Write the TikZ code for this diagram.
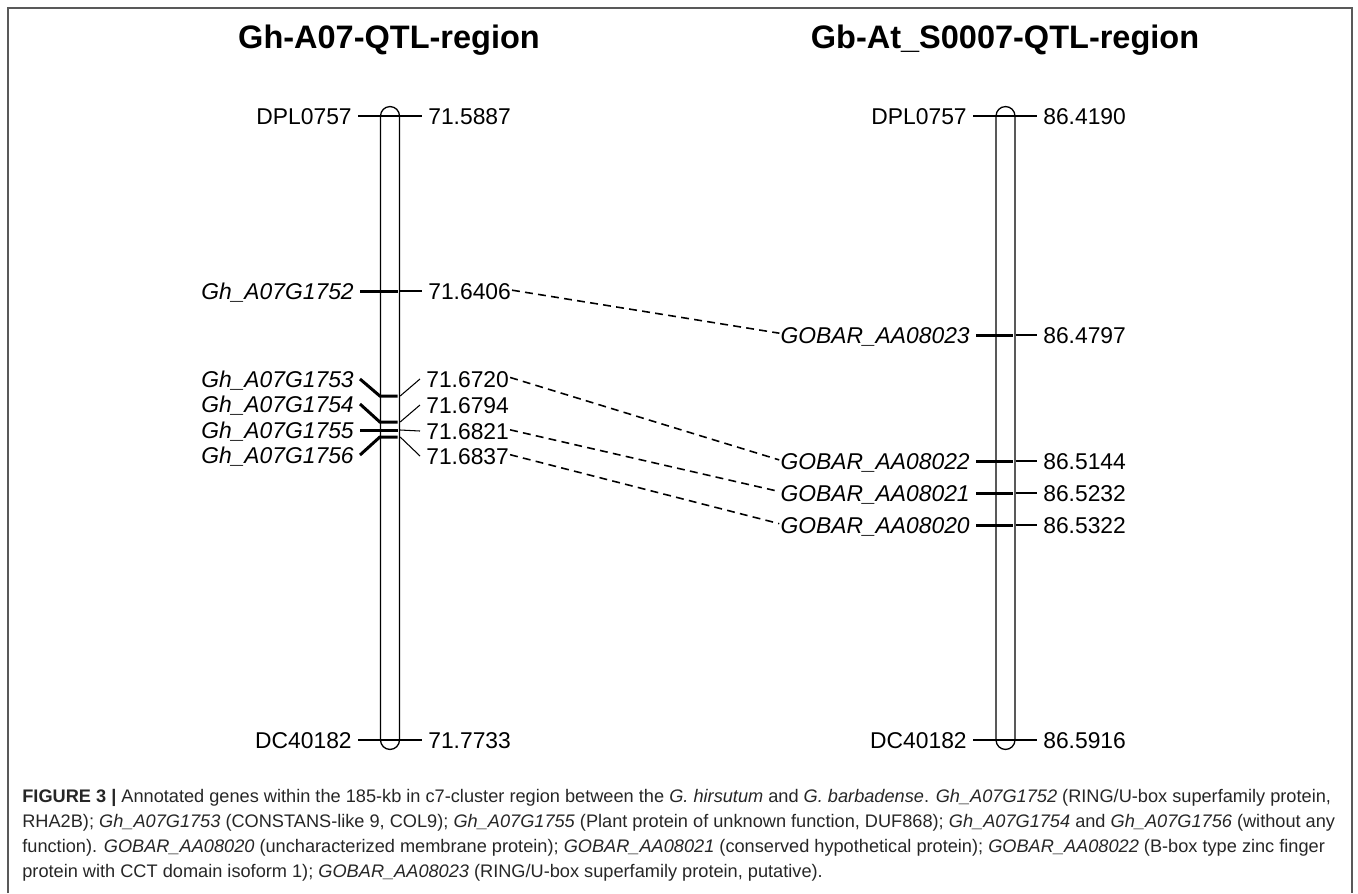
\documentclass[tikz,border=0pt]{standalone}
\usepackage{fontspec}
\setmainfont{Liberation Sans}
\usepackage{tikz}

\begin{document}
\begin{tikzpicture}[x=0.02cm, y=-0.02cm,
    lab/.style={font=\fontsize{13}{15}\selectfont, text height=9.3pt, text depth=0pt, inner ysep=0pt, inner xsep=3.4pt},
    gene/.style={lab, font=\fontsize{13}{15}\selectfont\itshape},
    chrom/.style={draw, line width=0.75pt, rounded corners=0.19cm, minimum width=0.38cm, minimum height=12.86cm, inner sep=0pt},
    tick/.style={line width=0.6pt},
    bar/.style={line width=1.7pt, shorten >=1.4pt},
    link/.style={line width=0.9pt, dash pattern=on 4.5pt off 3pt, shorten <=-3pt, shorten >=-3pt}]
    \useasboundingbox (0,0) rectangle (1358,893);
    \draw[black!65, line width=1.1pt] (8,893) -- (8,8) -- (1352,8) -- (1352,893);

    \node[font=\fontsize{18.5}{22}\selectfont\bfseries] (tA) at (389,40) {Gh-A07-QTL-region};
    \node[font=\fontsize{18.5}{22}\selectfont\bfseries] (tB) at (1005,40) {Gb-At\_S0007-QTL-region};

    % Gh chromosome
    \node[chrom] (chrA) at (390,428) {};
    \coordinate (k2) at (390,396);
    \coordinate (k3) at (390,422);
    \coordinate (k4) at (390,430);
    \coordinate (k5) at (390,437);

    \node[lab, anchor=east] (a0) at (358,116) {DPL0757};
    \node[gene, anchor=east] (a1) at (360,291) {Gh\_A07G1752};
    \node[gene, anchor=east] (a2) at (360,379) {Gh\_A07G1753};
    \node[gene, anchor=east] (a3) at (360,404) {Gh\_A07G1754};
    \node[gene, anchor=east] (a4) at (360,430) {Gh\_A07G1755};
    \node[gene, anchor=east] (a5) at (360,455) {Gh\_A07G1756};
    \node[lab, anchor=east] (a6) at (358,740) {DC40182};

    \node[lab, anchor=west] (p0) at (422,116) {71.5887};
    \node[lab, anchor=west] (p1) at (422,291) {71.6406};
    \node[lab, anchor=west] (p2) at (420,379) {71.6720};
    \node[lab, anchor=west] (p3) at (420,405) {71.6794};
    \node[lab, anchor=west] (p4) at (420,431) {71.6821};
    \node[lab, anchor=west] (p5) at (420,456) {71.6837};
    \node[lab, anchor=west] (p6) at (422,740) {71.7733};

    \draw[tick] (a0.east) -- (p0.west);
    \draw[bar] (a1.east) -- (chrA.east |- a1.east);
    \draw[tick] (chrA.east |- a1.east) -- (p1.west);
    \draw[bar] (a2.east) -- (chrA.west |- k2) -- (chrA.east |- k2);
    \draw[tick] (chrA.east |- k2) -- (p2.west);
    \draw[bar] (a3.east) -- (chrA.west |- k3) -- (chrA.east |- k3);
    \draw[tick] (chrA.east |- k3) -- (p3.west);
    \draw[bar] (a4.east) -- (chrA.west |- k4) -- (chrA.east |- k4);
    \draw[tick] (chrA.east |- k4) -- (p4.west);
    \draw[bar] (a5.east) -- (chrA.west |- k5) -- (chrA.east |- k5);
    \draw[tick] (chrA.east |- k5) -- (p5.west);
    \draw[tick] (a6.east) -- (p6.west);

    % Gb chromosome
    \node[chrom] (chrB) at (1005.5,428) {};

    \node[lab, anchor=east] (b0) at (973,116) {DPL0757};
    \node[gene, anchor=east] (b1) at (976,335) {GOBAR\_AA08023};
    \node[gene, anchor=east] (b2) at (976,461) {GOBAR\_AA08022};
    \node[gene, anchor=east] (b3) at (976,493) {GOBAR\_AA08021};
    \node[gene, anchor=east] (b4) at (976,525) {GOBAR\_AA08020};
    \node[lab, anchor=east] (b5) at (973,740) {DC40182};

    \node[lab, anchor=west] (q0) at (1037,116) {86.4190};
    \node[lab, anchor=west] (q1) at (1037,335) {86.4797};
    \node[lab, anchor=west] (q2) at (1037,461) {86.5144};
    \node[lab, anchor=west] (q3) at (1037,493) {86.5232};
    \node[lab, anchor=west] (q4) at (1037,525) {86.5322};
    \node[lab, anchor=west] (q5) at (1037,740) {86.5916};

    \draw[tick] (b0.east) -- (q0.west);
    \draw[bar] (b1.east) -- (chrB.east |- b1.east);
    \draw[tick] (chrB.east |- b1.east) -- (q1.west);
    \draw[bar] (b2.east) -- (chrB.east |- b2.east);
    \draw[tick] (chrB.east |- b2.east) -- (q2.west);
    \draw[bar] (b3.east) -- (chrB.east |- b3.east);
    \draw[tick] (chrB.east |- b3.east) -- (q3.west);
    \draw[bar] (b4.east) -- (chrB.east |- b4.east);
    \draw[tick] (chrB.east |- b4.east) -- (q4.west);
    \draw[tick] (b5.east) -- (q5.west);

    % links
    \draw[link] (p1.east) -- ([yshift=1.5pt]b1.west);
    \draw[link] (p2.east) -- ([yshift=1.5pt]b2.west);
    \draw[link] (p4.east) -- ([yshift=1.5pt]b3.west);
    \draw[link] (p5.east) -- ([yshift=1.5pt]b4.west);

    \node[anchor=north west, align=left, inner sep=0pt, text=black!85,
          font=\fontsize{10.35}{14.3}\selectfont] (cap) at (22,789)
        {\textbf{FIGURE 3 |} Annotated genes within the 185-kb in c7-cluster region between the \textit{G. hirsutum} and \textit{G. barbadense}. \textit{Gh\_A07G1752} (RING/U-box superfamily protein,\\
         RHA2B); \textit{Gh\_A07G1753} (CONSTANS-like 9, COL9); \textit{Gh\_A07G1755} (Plant protein of unknown function, DUF868); \textit{Gh\_A07G1754} and \textit{Gh\_A07G1756} (without any\\
         function). \textit{GOBAR\_AA08020} (uncharacterized membrane protein); \textit{GOBAR\_AA08021} (conserved hypothetical protein); \textit{GOBAR\_AA08022} (B-box type zinc finger\\
         protein with CCT domain isoform 1); \textit{GOBAR\_AA08023} (RING/U-box superfamily protein, putative).};
\end{tikzpicture}
\end{document}
